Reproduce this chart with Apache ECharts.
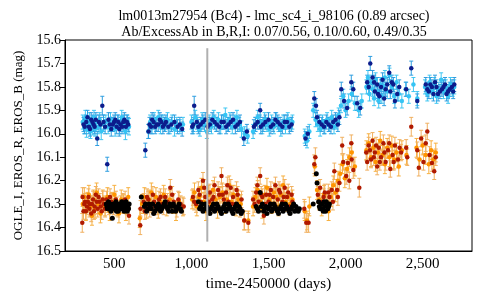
<!DOCTYPE html>
<html><head><meta charset="utf-8">
<script src="https://cdn.jsdelivr.net/npm/echarts@6/dist/echarts.min.js"></script>
<style>html,body{margin:0;padding:0;background:#fff}#c{width:480px;height:300px}</style>
</head><body><div id="c"></div>
<script>
var titleLines = ['lm0013m27954 (Bc4) - lmc_sc4_i_98106 (0.89 arcsec)', 'Ab/ExcessAb in B,R,I: 0.07/0.56, 0.10/0.60, 0.49/0.35'];
var xTicks = [500, 1000, 1500, 2000, 2500];
var xName = 'time-2450000 (days)';
var yName = 'OGLE_I, EROS_R, EROS_B (mag)';
var grayLine = [[1103, 15.635], [1103, 16.46]];

// EROS_B light (cyan) [day, mag, err]
var erosBLight = [
[295,15.95,.03],[305,15.97,.03],[312,15.93,.03],[320,15.98,.035],[330,15.96,.03],[338,15.94,.03],[345,15.99,.03],[352,15.96,.03],[360,15.97,.035],[368,15.93,.03],[375,15.98,.03],[385,15.95,.03],[395,15.97,.03],[405,15.94,.03],[415,15.99,.035],[430,15.96,.03],[445,15.95,.03],[460,15.97,.03],[475,15.94,.03],[490,15.96,.03],[505,15.98,.03],[520,15.95,.03],[535,15.97,.03],[548,15.93,.03],[560,15.96,.03],[572,15.99,.035],[585,15.95,.03],[595,15.97,.035],
[720,15.99,.03],[732,15.95,.03],[745,15.97,.03],[758,15.94,.03],[770,15.96,.03],[785,15.93,.03],[800,15.97,.03],[815,15.95,.03],[830,15.96,.03],[845,15.94,.03],[860,15.97,.03],[875,15.95,.03],[890,15.98,.03],[905,15.96,.03],[925,15.97,.03],[945,15.96,.03],
[1000,15.95,.03],[1012,15.97,.03],[1025,15.93,.03],[1040,15.96,.03],[1055,15.98,.03],[1070,15.94,.03],[1085,15.96,.03],[1100,15.99,.03],[1115,15.95,.03],[1130,15.97,.03],[1145,15.93,.03],[1160,15.96,.03],[1175,15.94,.03],[1190,15.97,.03],[1205,15.95,.03],[1220,15.92,.03],[1235,15.96,.03],[1250,15.94,.03],[1265,15.97,.03],[1280,15.95,.03],[1295,15.93,.03],[1310,15.96,.03],[1325,15.98,.035],[1345,16.00,.03],[1365,16.01,.03],
[1400,15.99,.03],[1415,15.96,.03],[1430,15.93,.03],[1445,15.95,.03],[1460,15.97,.03],[1475,15.94,.03],[1490,15.96,.03],[1505,15.98,.03],[1520,15.95,.03],[1535,15.97,.03],[1550,15.94,.03],[1565,15.96,.03],[1580,15.98,.03],[1595,15.95,.03],[1610,15.97,.03],[1625,15.94,.03],[1640,15.96,.03],[1655,15.95,.03],
[1735,16.01,.03],[1750,16.03,.03],[1765,15.99,.03],[1790,15.90,.03],[1805,15.94,.03],[1820,15.96,.03],[1835,15.98,.03],[1850,15.95,.03],[1865,15.97,.03],[1880,15.94,.03],[1895,15.96,.03],[1910,15.93,.03],[1925,15.97,.03],[1940,15.95,.03],[1955,15.92,.03],[1970,15.88,.03],[1985,15.84,.03],[2000,15.90,.03],[2020,15.86,.03],[2040,15.83,.03],[2060,15.87,.03],[2085,15.90,.03],[2105,15.86,.03],
[2135,15.80,.03],[2145,15.76,.03],[2155,15.83,.03],[2165,15.78,.03],[2175,15.81,.03],[2185,15.85,.03],[2195,15.77,.03],[2205,15.82,.03],[2215,15.86,.03],[2225,15.79,.03],[2235,15.84,.03],[2245,15.80,.03],[2255,15.76,.03],[2270,15.82,.03],[2285,15.75,.03],[2300,15.80,.03],[2315,15.84,.03],[2330,15.78,.03],[2345,15.83,.03],[2365,15.86,.03],[2390,15.81,.03],[2410,15.84,.03],[2440,15.79,.03],[2465,15.85,.03],
[2515,15.80,.03],[2530,15.83,.03],[2545,15.78,.03],[2560,15.82,.03],[2575,15.79,.03],[2590,15.84,.03],[2605,15.81,.03],[2620,15.77,.03],[2635,15.82,.03],[2650,15.80,.03],[2665,15.84,.03],[2680,15.79,.03],[2695,15.81,.03],[2705,15.80,.03]
];

// EROS_B dark (navy) [day, mag, err]
var erosBDark = [
[300,15.96,.03],[318,15.95,.03],[335,15.97,.03],[350,15.94,.03],[365,15.96,.03],[389,16.02,.03],[400,15.95,.03],[422,15.88,.04],[440,15.97,.03],[454,16.13,.03],[470,15.96,.03],[498,15.95,.03],[515,15.97,.03],[540,15.96,.03],[565,15.94,.03],[590,15.96,.03],
[308,15.97,.03],[326,15.93,.03],[342,15.98,.03],[358,15.95,.03],[372,15.97,.03],[380,15.94,.03],[410,15.96,.03],[430,15.95,.03],[462,15.94,.03],[480,15.98,.03],[490,15.96,.03],[506,15.94,.03],[525,15.95,.03],[532,15.98,.03],[550,15.97,.03],[558,15.95,.03],[575,15.97,.03],[582,15.95,.03],
[701,16.07,.03],[722,15.99,.03],[738,15.97,.03],[755,15.95,.03],[775,15.96,.03],[795,15.94,.03],[815,15.97,.03],[835,15.95,.03],[870,15.96,.03],[910,15.97,.03],[940,15.98,.03],
[728,15.96,.03],[745,15.94,.03],[765,15.97,.03],[785,15.96,.03],[805,15.95,.03],[825,15.96,.03],[850,15.97,.03],[890,15.95,.03],[925,15.96,.03],
[1005,15.97,.03],[1018,15.88,.04],[1035,15.95,.03],[1060,15.96,.03],[1090,15.94,.03],[1120,15.96,.03],[1150,15.95,.03],[1180,15.97,.03],[1210,15.95,.03],[1240,15.96,.03],[1270,15.94,.03],[1300,15.96,.03],[1340,16.02,.03],[1360,15.99,.03],
[1012,15.96,.03],[1045,15.97,.03],[1075,15.95,.03],[1105,15.97,.03],[1135,15.94,.03],[1165,15.96,.03],[1195,15.95,.03],[1225,15.97,.03],[1255,15.95,.03],[1285,15.97,.03],[1315,15.95,.03],
[1405,15.97,.03],[1430,15.95,.03],[1446,15.90,.03],[1465,15.96,.03],[1500,15.94,.03],[1530,15.96,.03],[1560,15.95,.03],[1590,15.97,.03],[1620,15.95,.03],[1650,15.96,.03],
[1415,15.96,.03],[1450,15.97,.03],[1480,15.95,.03],[1515,15.97,.03],[1545,15.94,.03],[1575,15.96,.03],[1605,15.95,.03],[1635,15.97,.03],
[1740,16.02,.03],[1755,16.00,.03],[1797,15.85,.03],[1808,15.88,.03],[1830,15.95,.03],[1860,15.97,.03],[1890,15.96,.03],[1920,15.95,.03],[1950,15.96,.03],[1972,15.81,.03],[1990,15.86,.03],[2010,15.89,.03],[2037,15.78,.03],[2050,15.81,.03],[2075,15.87,.03],[2095,15.89,.03],
[1815,15.93,.03],[1845,15.96,.03],[1875,15.95,.03],[1905,15.97,.03],[1935,15.94,.03],[1960,15.93,.03],
[2140,15.78,.03],[2160,15.70,.03],[2175,15.76,.03],[2190,15.82,.03],[2205,15.79,.03],[2220,15.84,.03],[2240,15.77,.03],[2260,15.81,.03],[2283,15.74,.03],[2300,15.78,.03],[2320,15.86,.03],[2348,15.80,.03],[2393,15.81,.03],[2426,15.72,.03],[2465,15.86,.03],
[2150,15.80,.03],[2185,15.78,.03],[2210,15.83,.03],[2230,15.80,.03],[2250,15.85,.03],[2270,15.79,.03],[2290,15.82,.03],[2310,15.79,.03],[2335,15.83,.03],
[2520,15.79,.03],[2540,15.82,.03],[2560,15.80,.03],[2580,15.78,.03],[2600,15.83,.03],[2625,15.81,.03],[2645,15.79,.03],[2665,15.82,.03],[2690,15.80,.03],[2705,15.79,.03],
[2530,15.81,.03],[2550,15.79,.03],[2570,15.83,.03],[2590,15.80,.03],[2612,15.82,.03],[2635,15.80,.03],[2655,15.83,.03],[2675,15.81,.03],[2698,15.82,.03]
];

// EROS_R light (orange) [day, mag, err]
var erosRLight = [
[295,16.30,.04],[305,16.27,.04],[315,16.33,.04],[325,16.29,.04],[335,16.26,.04],[345,16.31,.04],[355,16.35,.04],[365,16.28,.04],[375,16.32,.04],[385,16.25,.04],[395,16.30,.04],[410,16.34,.04],[425,16.28,.04],[440,16.31,.04],[455,16.27,.04],[470,16.33,.04],[485,16.29,.04],[500,16.26,.04],[515,16.31,.04],[530,16.34,.04],[545,16.28,.04],[560,16.30,.04],[575,16.33,.04],[590,16.27,.04],
[665,16.36,.04],[680,16.30,.04],[695,16.27,.04],[710,16.32,.04],[725,16.28,.04],[740,16.25,.04],[755,16.30,.04],[770,16.27,.04],[785,16.32,.04],[800,16.29,.04],[820,16.26,.04],[840,16.31,.04],[860,16.28,.04],[880,16.30,.04],[900,16.33,.04],[920,16.29,.04],[945,16.31,.04],
[1005,16.28,.04],[1020,16.25,.04],[1035,16.31,.04],[1050,16.27,.04],[1065,16.23,.04],[1080,16.29,.04],[1095,16.33,.04],[1110,16.26,.04],[1125,16.30,.04],[1140,16.24,.04],[1155,16.28,.04],[1170,16.32,.04],[1185,16.27,.04],[1200,16.25,.04],[1215,16.30,.04],[1230,16.28,.04],[1245,16.22,.04],[1260,16.29,.04],[1275,16.26,.04],[1290,16.31,.04],[1305,16.28,.04],[1320,16.30,.04],[1343,16.37,.04],[1369,16.37,.04],
[1400,16.31,.04],[1415,16.27,.04],[1430,16.24,.04],[1445,16.29,.04],[1460,16.32,.04],[1475,16.26,.04],[1490,16.23,.04],[1505,16.28,.04],[1520,16.30,.04],[1535,16.25,.04],[1550,16.27,.04],[1565,16.31,.04],[1580,16.26,.04],[1595,16.22,.04],[1610,16.29,.04],[1625,16.27,.04],[1640,16.30,.04],[1655,16.28,.04],
[1735,16.33,.04],[1750,16.37,.04],[1765,16.31,.04],[1800,16.14,.04],[1815,16.24,.04],[1830,16.28,.04],[1845,16.31,.04],[1860,16.26,.04],[1875,16.29,.04],[1890,16.33,.04],[1905,16.27,.04],[1920,16.22,.04],[1935,16.25,.04],[1950,16.20,.04],[1965,16.17,.04],[1980,16.13,.04],[1995,16.19,.04],[2010,16.15,.04],[2025,16.10,.04],[2040,16.08,.04],[2060,16.14,.04],
[2135,16.07,.04],[2150,16.04,.04],[2165,16.10,.04],[2180,16.06,.04],[2195,16.12,.04],[2210,16.08,.04],[2225,16.03,.04],[2240,16.09,.04],[2255,16.13,.04],[2270,16.06,.04],[2285,16.10,.04],[2300,16.05,.04],[2315,16.11,.04],[2330,16.08,.04],[2345,16.14,.04],[2365,16.07,.04],[2395,16.09,.04],
[2460,16.06,.04],[2480,16.11,.04],[2500,16.05,.04],[2520,16.09,.04],[2540,16.13,.04],[2555,16.07,.04],[2570,16.11,.04],[2585,16.08,.04]
];

// EROS_R dark (red) [day, mag, err]
var erosRDark = [
[292,16.38,.04],[294,16.27,.04],[300,16.33,.035],[310,16.29,.035],[322,16.31,.035],[332,16.27,.035],[342,16.30,.035],[350,16.34,.035],[362,16.28,.035],[372,16.31,.035],[380,16.26,.035],[392,16.32,.035],[405,16.29,.035],[418,16.33,.035],[432,16.30,.035],[450,16.28,.035],[465,16.31,.035],[480,16.29,.035],[510,16.28,.035],[525,16.32,.035],[555,16.29,.035],[580,16.31,.035],[595,16.35,.035],
[305,16.30,.035],[316,16.33,.035],[328,16.29,.035],[338,16.32,.035],[355,16.30,.035],[368,16.33,.035],[386,16.29,.035],[398,16.27,.035],[412,16.31,.035],[425,16.28,.035],[440,16.32,.035],[458,16.30,.035],[472,16.27,.035],[495,16.31,.035],[540,16.30,.035],[570,16.28,.035],
[668,16.39,.04],[670,16.32,.035],[690,16.29,.035],[705,16.31,.035],[720,16.28,.035],[738,16.30,.035],[750,16.26,.035],[765,16.31,.035],[790,16.28,.035],[810,16.30,.035],[830,16.27,.035],[863,16.23,.035],[885,16.29,.035],[905,16.32,.035],[930,16.30,.035],[950,16.31,.035],
[698,16.33,.035],[712,16.27,.035],[730,16.32,.035],[758,16.29,.035],[780,16.31,.035],[800,16.27,.035],[820,16.31,.035],[845,16.29,.035],[875,16.26,.035],[915,16.28,.035],
[1010,16.27,.035],[1030,16.30,.035],[1045,16.24,.035],[1060,16.29,.035],[1075,16.20,.035],[1090,16.27,.035],[1105,16.31,.035],[1120,16.25,.035],[1135,16.28,.035],[1150,16.22,.035],[1165,16.30,.035],[1180,16.26,.035],[1195,16.18,.035],[1210,16.28,.035],[1225,16.25,.035],[1240,16.29,.035],[1255,16.23,.035],[1270,16.27,.035],[1285,16.30,.035],[1300,16.26,.035],[1315,16.32,.035],[1343,16.37,.04],[1369,16.38,.04],
[1018,16.29,.035],[1053,16.26,.035],[1083,16.23,.035],[1113,16.29,.035],[1143,16.27,.035],[1173,16.24,.035],[1203,16.26,.035],[1233,16.22,.035],[1263,16.30,.035],[1293,16.24,.035],[1325,16.28,.035],
[1400,16.28,.035],[1420,16.25,.035],[1435,16.29,.035],[1446,16.18,.035],[1460,16.27,.035],[1470,16.35,.035],[1485,16.26,.035],[1500,16.29,.035],[1515,16.24,.035],[1530,16.27,.035],[1545,16.22,.035],[1560,16.28,.035],[1575,16.25,.035],[1590,16.29,.035],[1605,16.23,.035],[1620,16.27,.035],[1635,16.31,.035],[1650,16.26,.035],
[1410,16.30,.035],[1428,16.22,.035],[1453,16.26,.035],[1478,16.30,.035],[1508,16.26,.035],[1538,16.30,.035],[1568,16.24,.035],[1598,16.27,.035],[1628,16.25,.035],[1655,16.29,.035],
[1732,16.32,.04],[1745,16.38,.04],[1760,16.38,.04],[1797,16.13,.04],[1804,16.10,.04],[1820,16.26,.035],[1835,16.23,.035],[1850,16.29,.035],[1865,16.25,.035],[1880,16.30,.035],[1895,16.27,.035],[1910,16.24,.035],[1927,16.16,.035],[1945,16.24,.035],[1960,16.21,.035],[1978,16.05,.035],[1985,16.12,.035],[2004,16.18,.035],[2015,16.125,.035],[2024,16.20,.035],[2037,16.04,.035],[2040,16.11,.035],[2050,16.155,.035],[2089,16.23,.04],
[1828,16.29,.035],[1858,16.27,.035],[1888,16.25,.035],[1918,16.29,.035],[1950,16.27,.035],
[2134,16.08,.035],[2150,16.05,.035],[2165,16.11,.035],[2175,16.03,.035],[2190,16.08,.035],[2205,16.14,.035],[2215,16.06,.035],[2230,16.10,.035],[2245,16.04,.035],[2260,16.12,.035],[2275,16.07,.035],[2290,16.15,.035],[2305,16.09,.035],[2320,16.05,.035],[2340,16.11,.035],[2360,16.08,.035],[2393,16.06,.035],[2400,16.10,.035],[2426,15.97,.04],
[2140,16.12,.035],[2158,16.07,.035],[2183,16.10,.035],[2198,16.05,.035],[2222,16.12,.035],[2252,16.08,.035],[2283,16.04,.035],[2312,16.12,.035],[2350,16.06,.035],
[2465,16.07,.035],[2475,16.145,.035],[2490,16.02,.035],[2505,16.12,.035],[2520,16.04,.035],[2530,15.99,.035],[2545,16.09,.035],[2560,16.125,.035],[2575,16.16,.035],[2585,16.10,.035]
];

// OGLE_I (black) [day, mag]
var ogleI = [
[448,16.30],[455,16.32],[462,16.29],[470,16.31],[478,16.33],[487,16.36],[495,16.30],[503,16.32],[510,16.29],[518,16.31],[525,16.33],[533,16.30],[540,16.32],[548,16.29],[556,16.31],[564,16.33],[572,16.30],[580,16.32],[588,16.31],[596,16.30],
[452,16.31],[466,16.32],[474,16.30],[491,16.32],[499,16.31],[507,16.30],[514,16.33],[529,16.31],[537,16.31],[544,16.30],[552,16.32],[560,16.30],[568,16.31],[576,16.29],[584,16.33],[592,16.32],
[675,16.27],[695,16.31],[710,16.33],[725,16.30],[740,16.32],[755,16.34],[770,16.31],[785,16.30],[800,16.33],[815,16.31],[830,16.29],[845,16.32],[860,16.30],[875,16.33],[890,16.31],[905,16.32],[920,16.30],[935,16.33],
[702,16.30],[718,16.32],[733,16.31],[748,16.30],[763,16.33],[778,16.32],[793,16.31],[808,16.32],[823,16.30],[838,16.31],[853,16.33],[868,16.31],[883,16.30],[898,16.33],[913,16.31],[928,16.32],
[1045,16.29],[1060,16.31],[1075,16.33],[1090,16.30],[1105,16.32],[1120,16.34],[1135,16.31],[1150,16.33],[1165,16.30],[1180,16.32],[1195,16.34],[1210,16.31],[1225,16.33],[1240,16.30],[1255,16.32],[1270,16.34],[1285,16.31],[1300,16.33],[1315,16.32],[1330,16.33],
[1053,16.32],[1068,16.30],[1083,16.32],[1098,16.31],[1113,16.33],[1128,16.32],[1143,16.30],[1158,16.32],[1173,16.31],[1188,16.33],[1203,16.32],[1218,16.30],[1233,16.32],[1248,16.31],[1263,16.33],[1278,16.32],[1293,16.30],[1308,16.31],[1323,16.34],
[1420,16.31],[1435,16.33],[1446,16.25],[1460,16.30],[1475,16.32],[1490,16.34],[1505,16.31],[1520,16.33],[1535,16.30],[1550,16.32],[1565,16.34],[1580,16.31],[1595,16.33],[1610,16.30],[1625,16.32],[1640,16.34],[1655,16.31],[1670,16.33],[1685,16.32],[1700,16.32],
[1428,16.32],[1453,16.31],[1468,16.33],[1483,16.31],[1498,16.32],[1513,16.30],[1528,16.32],[1543,16.31],[1558,16.33],[1573,16.32],[1588,16.30],[1603,16.32],[1618,16.31],[1633,16.33],[1648,16.32],[1663,16.30],[1678,16.31],[1693,16.33],
[1790,16.30],[1810,16.17],[1815,16.21],[1825,16.29],[1835,16.32],[1845,16.30],[1855,16.33],[1865,16.31],[1875,16.29],[1885,16.32],[1895,16.30],
[1830,16.31],[1850,16.32],[1860,16.29],[1870,16.33],[1880,16.30],[1890,16.31]
];

var FONT = 'Liberation Serif';

function errSeries(data, color) {
  return {
    type: 'custom', data: data, silent: true, encode: { x: 0, y: 1 },
    renderItem: function (params, api) {
      var x = api.value(0), y = api.value(1), e = api.value(2);
      var a = api.coord([x, y - e]), b = api.coord([x, y + e]);
      var hw = 2;
      var st = { stroke: color, lineWidth: 1 };
      return { type: 'group', children: [
        { type: 'line', shape: { x1: a[0], y1: a[1], x2: b[0], y2: b[1] }, style: st },
        { type: 'line', shape: { x1: a[0] - hw, y1: a[1], x2: a[0] + hw, y2: a[1] }, style: st },
        { type: 'line', shape: { x1: b[0] - hw, y1: b[1], x2: b[0] + hw, y2: b[1] }, style: st }
      ]};
    }
  };
}
function dotSeries(data, color, size) {
  return { type: 'scatter', data: data, symbolSize: size, silent: true,
    itemStyle: { color: color, opacity: 1 }, encode: { x: 0, y: 1 } };
}

var chart = echarts.init(document.getElementById('c'), null, { renderer: 'canvas' });
chart.setOption({
  animation: false,
  backgroundColor: '#fff',
  title: {
    text: titleLines.join('\n'), left: 269, top: 3, textAlign: 'center',
    textStyle: { fontFamily: FONT, fontSize: 14, fontWeight: 'normal', color: '#000', lineHeight: 16 }
  },
  grid: { left: 65, right: 8, top: 40, bottom: 49, show: true, borderColor: '#000', borderWidth: 1, backgroundColor: 'transparent' },
  xAxis: {
    type: 'value', min: 180, max: 2820,
    axisLine: { show: true, lineStyle: { color: '#000', width: 1 } },
    axisTick: { show: false },
    splitLine: { show: false },
    axisLabel: { customValues: xTicks, fontFamily: FONT, fontSize: 15, color: '#000', margin: 6,
      formatter: function (v) { return v.toLocaleString('en-US'); } },
    name: xName, nameLocation: 'middle', nameGap: 26,
    nameTextStyle: { fontFamily: FONT, fontSize: 15, color: '#000' }
  },
  yAxis: {
    type: 'value', inverse: true, min: 15.6, max: 16.5, interval: 0.1,
    axisLine: { show: true, lineStyle: { color: '#000', width: 1 } },
    axisTick: { show: true, inside: false, length: 5, lineStyle: { color: '#000' } },
    splitLine: { show: false },
    axisLabel: { fontFamily: FONT, fontSize: 14, color: '#000', margin: 4,
      formatter: function (v) { return v.toFixed(1); } },
    name: yName, nameLocation: 'middle', nameGap: 40, nameRotate: 90,
    nameTextStyle: { fontFamily: FONT, fontSize: 13, color: '#000' }
  },
  series: [
    errSeries(erosBLight, '#3fc6f2'),
    dotSeries(erosBLight, '#35c4f4', 4.5),
    errSeries(erosRLight, '#f7b040'),
    dotSeries(erosRLight, '#ff9500', 4.5),
    errSeries(erosBDark, '#2f9ee0'),
    dotSeries(erosBDark, '#0c1c8c', 4.5),
    errSeries(erosRDark, '#f0b060'),
    dotSeries(erosRDark, '#b01a00', 4.5),
    dotSeries(ogleI, '#000000', 5),
    { type: 'line', data: grayLine, symbol: 'none', silent: true, z: 5,
      lineStyle: { color: '#b0b0b0', width: 2 } }
  ]
});
</script>
</body></html>
